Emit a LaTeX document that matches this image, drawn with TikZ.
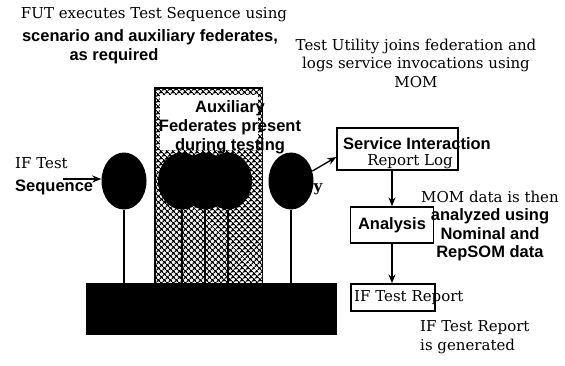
\documentclass[tikz,border=0pt]{standalone}
\usepackage{fontspec}
\setmainfont{DejaVu Serif}
\setsansfont{Liberation Sans}
\usetikzlibrary{arrows.meta,positioning,shapes.geometric,patterns.meta}
\tikzset{
  note/.style={font=\fontsize{15}{18.5}\selectfont,inner sep=0pt},
  sansnote/.style={font=\sffamily\bfseries\fontsize{16.5}{19}\selectfont,inner sep=0pt},
  box/.style={draw,line width=1.3pt,inner sep=0pt},
  balloon/.style={ellipse,fill=black,minimum width=45pt,minimum height=57pt,inner sep=0pt},
  link/.style={->,line width=1.3pt}
}
\begin{document}
\begin{tikzpicture}[x=1pt,y=-1pt,>={Stealth[length=9pt,width=7pt]}]
  \useasboundingbox (0,0) rectangle (565,365);
  % Title
  \node[note] (fut1) at (154,15) {FUT executes Test Sequence using};
  \node[sansnote] (fut2) at (150,37) {scenario and auxiliary federates,};
  \node[sansnote] (fut3) at (114,56) {as required};
  % Test utility note
  \node[note,align=center] (tunote) at (416,63) {Test Utility joins federation and\\logs service invocations using\\MOM};
  % Base
  \node[fill=black,minimum width=251pt,minimum height=52pt,inner sep=0pt] (base) at (211.5,309) {};
  % Auxiliary column
  \node[draw,pattern={Hatch[angle=45,distance=4pt,line width=1.3pt]},minimum width=107pt,minimum height=195pt,inner sep=0pt] (column) at (208.5,185.5) {};
  \node[fill=white,minimum width=98pt,minimum height=55pt,inner sep=0pt] (auxpanel) at (208.5,122.5) {};
  \node[sansnote,align=center] (auxtext) at (230,127) {Auxiliary\\Federates present\\during testing};
  \draw[line width=1.3pt] (column.north west) rectangle (column.south east);
  % Balloons
  \node[balloon] (ifb) at (124,181) {};
  \foreach \x [count=\i] in {182,205,228}
    \node[balloon,minimum width=48pt] (aux\i) at (\x,181) {};
  \node[balloon] (tub) at (291,181) {};
  \foreach \b in {ifb,aux1,aux2,aux3,tub}
    \draw[line width=1.5pt] (\b.south) -- (\b.south |- base.north);
  \node[note,font=\bfseries\fontsize{15}{18}\selectfont] (tuy) at (318,189) {y};
  % Test sequence input
  \node[note,align=left,anchor=west,font=\fontsize{15}{23}\selectfont] (seq) at (15,176) {IF Test\\\textsf{\bfseries\fontsize{16.5}{23}\selectfont Sequence}};
  \coordinate (seqarrow) at (63,179);
  \draw[link] (seqarrow) -- (seqarrow -| ifb.west);
  % Report chain
  \node[box,minimum width=121pt,minimum height=42pt] (srl) at (397.5,149) {};
  \node[sansnote] (srltop) at (417,144) {Service Interaction};
  \node[note] (srlbot) at (410,162) {Report Log};
  \draw[link] (tub.25) -- ([yshift=-8pt]srl.west);
  \node[box,sansnote,minimum width=83pt,minimum height=36pt] (ana) at (392,225) {Analysis};
  \draw[link] (ana.north |- srl.south) -- (ana.north);
  \node[box,minimum width=84pt,minimum height=27pt] (rep) at (393,297.5) {};
  \node[note,anchor=west] (reptext) at (354,298) {IF Test Report};
  \draw[link] (ana.south) -- (ana.south |- rep.north);
  % Side notes
  \node[note,align=center] (momnote) at (490,226) {MOM data is then\\\textsf{\bfseries\fontsize{16.5}{19.5}\selectfont analyzed using}\\\textsf{\bfseries\fontsize{16.5}{19.5}\selectfont Nominal and}\\\textsf{\bfseries\fontsize{16.5}{19.5}\selectfont RepSOM data}};
  \node[note,align=left,anchor=west] (repnote) at (420,337) {IF Test Report\\is generated};
\end{tikzpicture}
\end{document}
